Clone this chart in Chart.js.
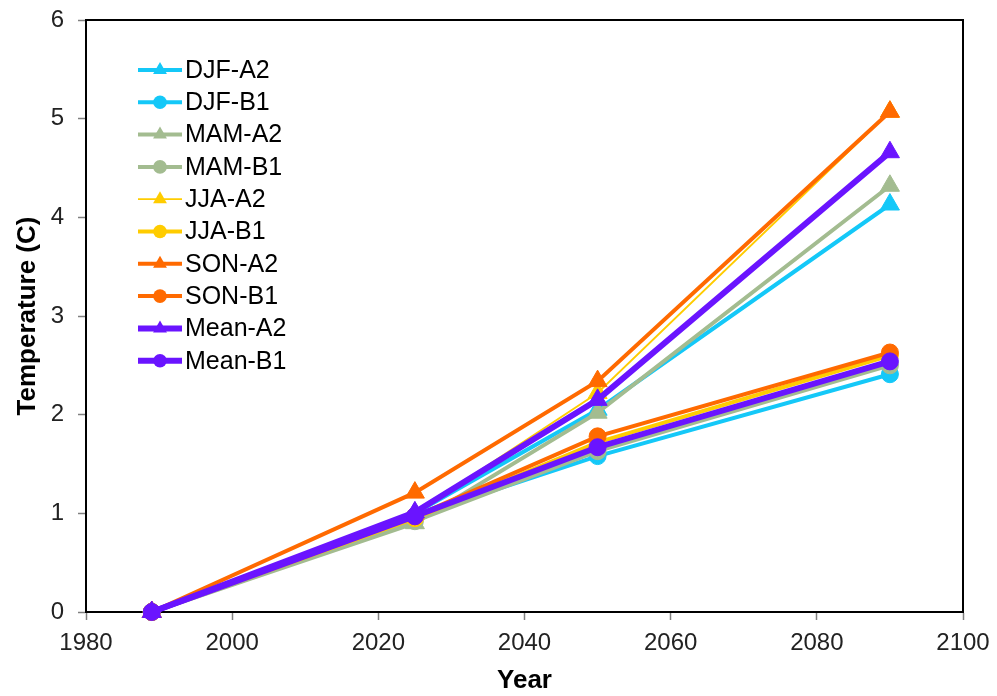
<!DOCTYPE html>
<html>
<head>
<meta charset="utf-8">
<title>Seasonal temperature change</title>
<script src="https://cdn.jsdelivr.net/npm/chart.js@4.4.1/dist/chart.umd.min.js"></script>
<style>
  html, body { margin: 0; padding: 0; background: #ffffff; }
  #wrap { width: 997px; height: 696px; }
</style>
</head>
<body>
<div id="wrap"><canvas id="c" width="997" height="696"></canvas></div>
<script>
// Projection years
const years = [1989, 2025, 2050, 2090];

// Temperature change (C) per season and scenario
const djfA2  = [0, 1.00, 2.05, 4.13];
const djfB1  = [0, 0.97, 1.58, 2.41];
const mamA2  = [0, 0.90, 2.02, 4.32];
const mamB1  = [0, 0.92, 1.63, 2.50];
const jjaA2  = [0, 1.00, 2.22, 5.07];
const jjaB1  = [0, 0.95, 1.72, 2.60];
const sonA2  = [0, 1.21, 2.34, 5.07];
const sonB1  = [0, 0.97, 1.78, 2.63];
const meanA2 = [0, 1.01, 2.15, 4.66];
const meanB1 = [0, 0.97, 1.67, 2.54];

const seriesNames = ['DJF-A2', 'DJF-B1', 'MAM-A2', 'MAM-B1', 'JJA-A2', 'JJA-B1', 'SON-A2', 'SON-B1', 'Mean-A2', 'Mean-B1'];
const seriesValues = [djfA2, djfB1, mamA2, mamB1, jjaA2, jjaB1, sonA2, sonB1, meanA2, meanB1];

const xTicks = { min: 1980, max: 2100, step: 20 };
const yTicks = { min: 0, max: 6, step: 1 };

const styles = [
  { color: '#14C8F8', width: 4, shape: 'triangle' },
  { color: '#14C8F8', width: 4, shape: 'circle' },
  { color: '#A3BC90', width: 4, shape: 'triangle' },
  { color: '#A3BC90', width: 4, shape: 'circle' },
  { color: '#FFCC00', width: 1.8, shape: 'triangle' },
  { color: '#FFCC00', width: 4, shape: 'circle' },
  { color: '#FF6A00', width: 4, shape: 'triangle' },
  { color: '#FF6A00', width: 4, shape: 'circle' },
  { color: '#6A14FF', width: 6, shape: 'triangle' },
  { color: '#6A14FF', width: 6, shape: 'circle' }
];

const FONT = '"Liberation Sans", Arial, Helvetica, sans-serif';

const datasets = seriesNames.map((name, i) => {
  const s = styles[i];
  const tri = s.shape === 'triangle';
  return {
    label: name,
    data: years.map((yr, k) => ({ x: yr, y: seriesValues[i][k] })),
    borderColor: s.color,
    backgroundColor: s.color,
    borderWidth: s.width,
    pointStyle: s.shape,
    pointRadius: tri ? 11 : 8.5,
    pointHoverRadius: tri ? 11 : 8.5,
    pointBorderWidth: 1,
    pointBorderColor: s.color,
    pointBackgroundColor: s.color,
    tension: 0,
    clip: false,
    order: seriesNames.length - i
  };
});

// Box around the plot area (top and right edges included)
const frame = {
  id: 'frame',
  beforeDatasetsDraw(chart) {
    const { ctx, chartArea: a } = chart;
    ctx.save();
    ctx.strokeStyle = '#000000';
    ctx.lineWidth = 2;
    ctx.strokeRect(a.left, a.top, a.right - a.left, a.bottom - a.top);
    ctx.restore();
  }
};

// Legend inside the plot: short line with its marker, then the name
const insideLegend = {
  id: 'insideLegend',
  afterDraw(chart) {
    const { ctx } = chart;
    const x0 = 138, x1 = 182, yStart = 70, gap = 32.3;
    ctx.save();
    ctx.font = '25px ' + FONT;
    ctx.textBaseline = 'middle';
    ctx.textAlign = 'left';
    chart.data.datasets.forEach((ds, i) => {
      const y = yStart + i * gap;
      const cx = (x0 + x1) / 2;
      ctx.strokeStyle = ds.borderColor;
      ctx.lineWidth = ds.borderWidth;
      ctx.beginPath();
      ctx.moveTo(x0, y);
      ctx.lineTo(x1, y);
      ctx.stroke();
      ctx.fillStyle = ds.borderColor;
      ctx.beginPath();
      if (ds.pointStyle === 'triangle') {
        const r = 8;
        ctx.moveTo(cx, y - r);
        ctx.lineTo(cx + r * 0.866, y + r * 0.5);
        ctx.lineTo(cx - r * 0.866, y + r * 0.5);
        ctx.closePath();
      } else {
        ctx.arc(cx, y, 6.8, 0, Math.PI * 2);
      }
      ctx.fill();
      ctx.fillStyle = '#000000';
      ctx.fillText(ds.label, x1 + 3, y + 1);
    });
    ctx.restore();
  }
};

new Chart(document.getElementById('c'), {
  type: 'line',
  data: { datasets },
  plugins: [frame, insideLegend],
  options: {
    responsive: false,
    animation: false,
    devicePixelRatio: 1,
    layout: { padding: { top: 20, right: 34, bottom: 0, left: 0 } },
    plugins: {
      legend: { display: false },
      tooltip: { enabled: false }
    },
    scales: {
      x: {
        type: 'linear',
        min: xTicks.min,
        max: xTicks.max,
        afterFit(scale) {
          scale.height = 84;
          scale.paddingLeft = 0;
          scale.paddingRight = 0;
        },
        ticks: {
          stepSize: xTicks.step,
          color: '#222222',
          font: { family: FONT, size: 24 },
          padding: 9,
          maxRotation: 0,
          callback: v => String(v)
        },
        grid: { drawOnChartArea: false, drawTicks: true, tickLength: 8, tickColor: '#808080', tickWidth: 1.5 },
        border: { display: true, color: '#000000', width: 2 },
        title: {
          display: true,
          text: 'Year',
          color: '#000000',
          font: { family: FONT, size: 26, weight: 'bold' },
          padding: { top: 0, bottom: 0 }
        }
      },
      y: {
        type: 'linear',
        min: yTicks.min,
        max: yTicks.max,
        afterFit(scale) {
          scale.width = 86;
          scale.paddingTop = 0;
          scale.paddingBottom = 0;
        },
        ticks: {
          stepSize: yTicks.step,
          color: '#222222',
          font: { family: FONT, size: 24 },
          padding: 14
        },
        grid: { drawOnChartArea: false, drawTicks: true, tickLength: 8, tickColor: '#808080', tickWidth: 1.5 },
        border: { display: true, color: '#000000', width: 2 },
        title: {
          display: true,
          text: 'Temperature (C)',
          color: '#000000',
          font: { family: FONT, size: 26, weight: 'bold' },
          padding: { top: 12, bottom: 0 }
        }
      }
    }
  }
});
</script>
</body>
</html>
